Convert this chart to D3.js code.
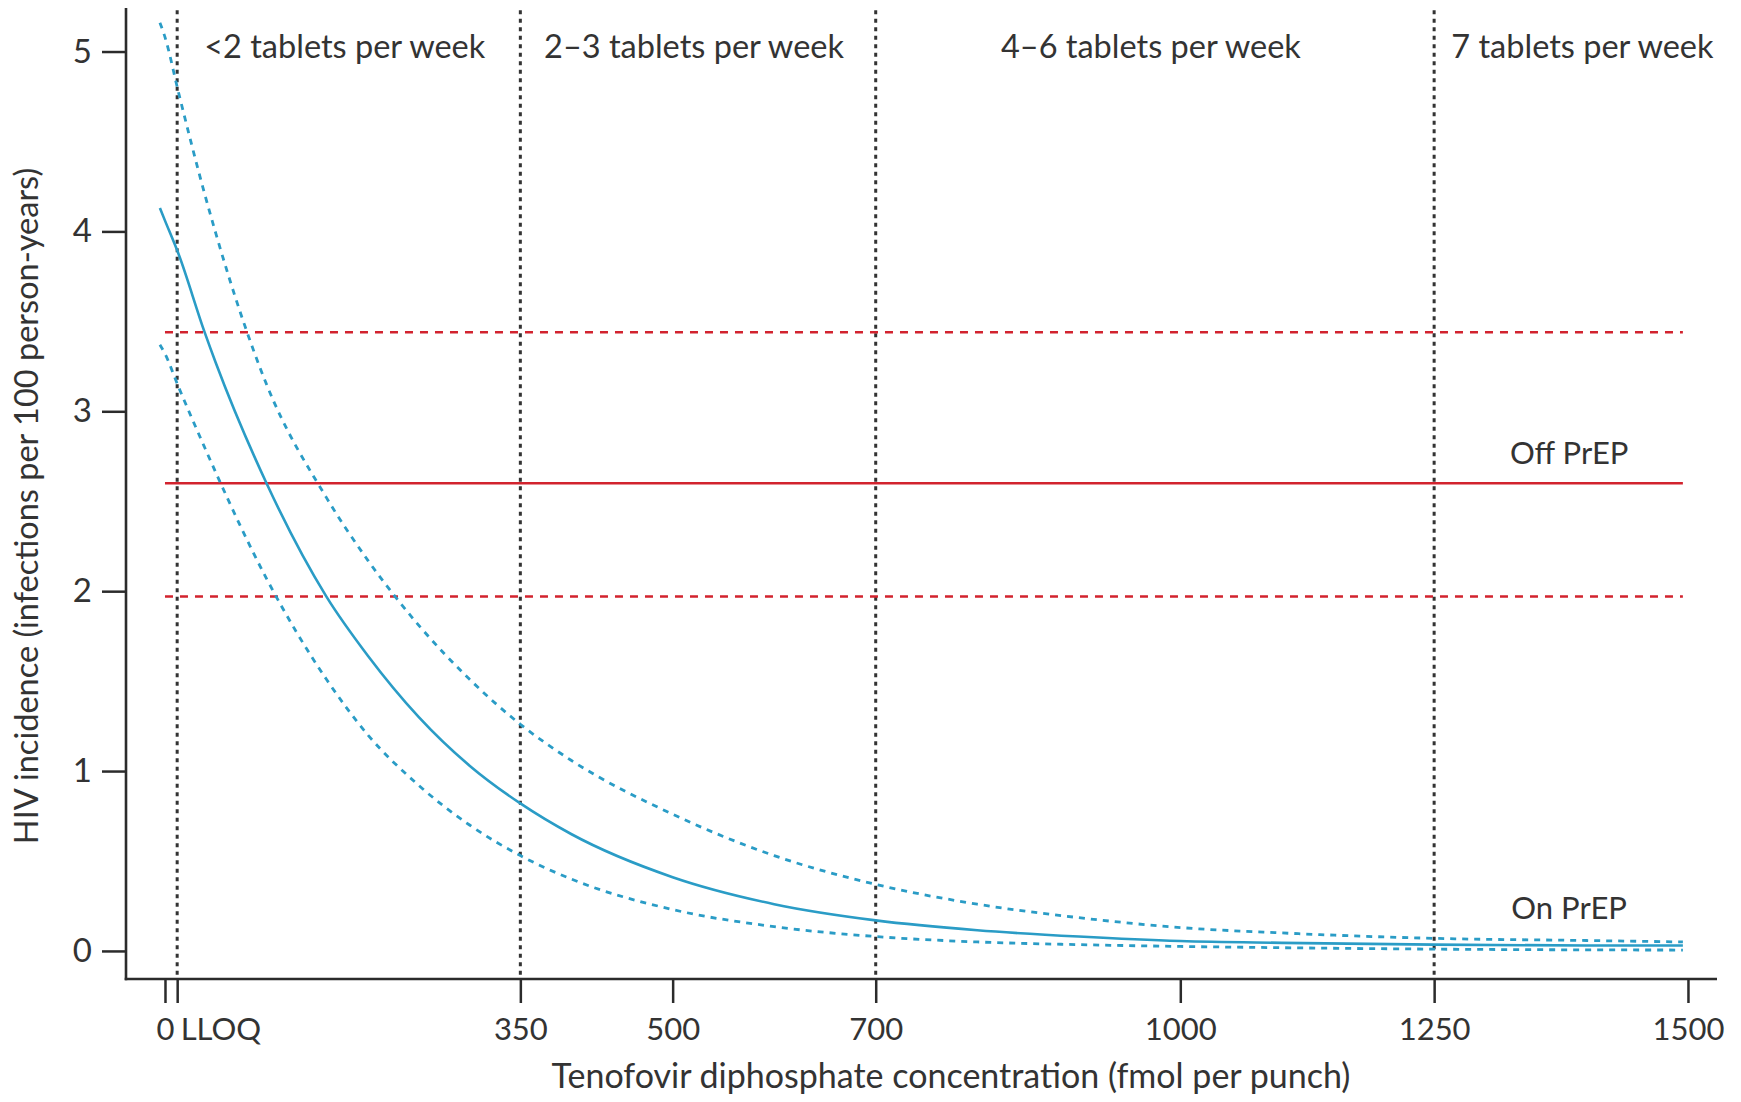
<!DOCTYPE html>
<html>
<head>
<meta charset="utf-8">
<script src="https://cdn.jsdelivr.net/npm/d3@7"></script>
<style>
  html, body { margin: 0; padding: 0; background: #fff; }
  svg { display: block; }
  text { font-family: Lato, "Open Sans", sans-serif; fill: #333; }
</style>
</head>
<body>
<svg id="chart" width="1741" height="1102"></svg>
<script>
// ---------------- data ----------------
const xTicks = [0, 12, 350, 500, 700, 1000, 1250, 1500];
const xTickLabels = ["0", "LLOQ", "350", "500", "700", "1000", "1250", "1500"];
const yTicks = [0, 1, 2, 3, 4, 5];

const adherenceBoundaries = [12, 350, 700, 1250];
const adherenceLabels = ["<2 tablets per week", "2–3 tablets per week", "4–6 tablets per week", "7 tablets per week"];

const offPrepEstimate = 2.60;
const offPrepLower = 1.97;
const offPrepUpper = 3.44;
const offPrepSpan = [0, 1495];

const tfvConc      = [-5,   0,    13,   39,   50,   100,  159,  200,  250,  300,  350,  400,  500,  600,  700,  800,  900,  1000,  1100,  1250,  1400,  1495];
const onPrepEst    = [4.13, 4.06, 3.88, 3.44, 3.27, 2.60, 1.97, 1.64, 1.30, 1.03, 0.82, 0.65, 0.41, 0.26, 0.17, 0.115,0.08, 0.055, 0.045, 0.035, 0.03,  0.03];
const onPrepUpper  = [5.16, 5.08, 4.78, 4.21, 3.99, 3.15, 2.52, 2.17, 1.81, 1.51, 1.26, 1.06, 0.76, 0.53, 0.37, 0.26, 0.185,0.13,  0.10,  0.07,  0.058, 0.05];
const onPrepLower  = [3.37, 3.32, 3.14, 2.80, 2.66, 2.07, 1.51, 1.20, 0.92, 0.70, 0.53, 0.40, 0.23, 0.135,0.08, 0.05, 0.035,0.025, 0.018, 0.01,  0.006, 0.005];

const labelOffPrep = "Off PrEP";
const labelOnPrep = "On PrEP";
const xTitle = "Tenofovir diphosphate concentration (fmol per punch)";
const yTitle = "HIV incidence (infections per 100 person-years)";

// ---------------- layout ----------------
(function () {
const svg = d3.select("#chart");
const pL = 126, pR = 1717, pT = 8, pB = 979;
const blue = "#2a9cc6", red = "#d2232e", ink = "#2b2b2b";

const x = d3.scaleLinear().domain([-38.4, 1528.6]).range([pL, pR]);
const y = d3.scaleLinear().domain([-0.156, 5.242]).range([pB, pT]);

// vertical adherence boundaries
svg.append("g").selectAll("line").data(adherenceBoundaries).join("line")
  .attr("x1", d => x(d)).attr("x2", d => x(d))
  .attr("y1", y(5.23)).attr("y2", pB)
  .attr("stroke", "#333").attr("stroke-width", 3)
  .attr("stroke-dasharray", "4,4.5");

// adherence labels
const bounds = adherenceBoundaries.concat([1550]);
svg.append("g").selectAll("text").data(adherenceLabels).join("text")
  .attr("x", (d, i) => x((bounds[i] + bounds[i + 1]) / 2) - 4)
  .attr("y", 58)
  .attr("text-anchor", "middle")
  .attr("font-size", 32.5)
  .text(d => d);

// Off PrEP lines
const hline = (v, dash) => svg.append("line")
  .attr("x1", x(offPrepSpan[0])).attr("x2", x(offPrepSpan[1]))
  .attr("y1", y(v)).attr("y2", y(v))
  .attr("stroke", red).attr("stroke-width", 2.5)
  .attr("stroke-dasharray", dash);
hline(offPrepUpper, "8,7");
hline(offPrepLower, "8,7");
hline(offPrepEstimate, null);

// On PrEP curves
const line = d3.line().x(d => x(d[0])).y(d => y(d[1])).curve(d3.curveMonotoneX);
const toPts = arr => tfvConc.map((c, i) => [c, arr[i]]);
svg.append("path").datum(toPts(onPrepUpper)).attr("d", line)
  .attr("fill", "none").attr("stroke", blue).attr("stroke-width", 2.8).attr("stroke-dasharray", "6,6");
svg.append("path").datum(toPts(onPrepLower)).attr("d", line)
  .attr("fill", "none").attr("stroke", blue).attr("stroke-width", 2.8).attr("stroke-dasharray", "6,6");
svg.append("path").datum(toPts(onPrepEst)).attr("d", line)
  .attr("fill", "none").attr("stroke", blue).attr("stroke-width", 2.6);

// series labels
svg.append("text").attr("x", x(1383)).attr("y", y(2.707)).attr("text-anchor", "middle")
  .attr("font-size", 31).text(labelOffPrep);
svg.append("text").attr("x", x(1383)).attr("y", y(0.18)).attr("text-anchor", "middle")
  .attr("font-size", 31).text(labelOnPrep);

// axes
const xAxis = d3.axisBottom(x).tickValues(xTicks)
  .tickFormat((d, i) => xTickLabels[i]).tickSize(24).tickPadding(15).tickSizeOuter(0);
const gx = svg.append("g").attr("transform", `translate(0,${pB})`).call(xAxis);
gx.select(".domain").remove();
gx.selectAll(".tick line").attr("stroke", ink).attr("stroke-width", 2.5);
gx.selectAll(".tick text").attr("font-size", 31).attr("fill", "#333")
  .attr("font-family", "Lato, 'Open Sans', sans-serif");
gx.selectAll(".tick").filter((d, i) => i === 1).select("text")
  .attr("text-anchor", "start").attr("x", 3);

const yAxis = d3.axisLeft(y).tickValues(yTicks).tickFormat(d3.format("d"))
  .tickSize(24).tickPadding(10).tickSizeOuter(0);
const gy = svg.append("g").attr("transform", `translate(${pL},0)`).call(yAxis);
gy.select(".domain").remove();
gy.selectAll(".tick line").attr("stroke", ink).attr("stroke-width", 2.5);
gy.selectAll(".tick text").attr("font-size", 33).attr("fill", "#333")
  .attr("font-family", "Lato, 'Open Sans', sans-serif");

// axis lines
svg.append("line").attr("x1", pL).attr("x2", pL).attr("y1", pT).attr("y2", pB + 1.3)
  .attr("stroke", ink).attr("stroke-width", 2.6);
svg.append("line").attr("x1", pL - 1.3).attr("x2", pR).attr("y1", pB).attr("y2", pB)
  .attr("stroke", ink).attr("stroke-width", 2.6);

// axis titles
svg.append("text").attr("x", 951).attr("y", 1088).attr("text-anchor", "middle")
  .attr("font-size", 34).text(xTitle);
svg.append("text").attr("transform", "translate(38,506) rotate(-90)").attr("text-anchor", "middle")
  .attr("font-size", 32.5).text(yTitle);
})();
</script>
</body>
</html>
